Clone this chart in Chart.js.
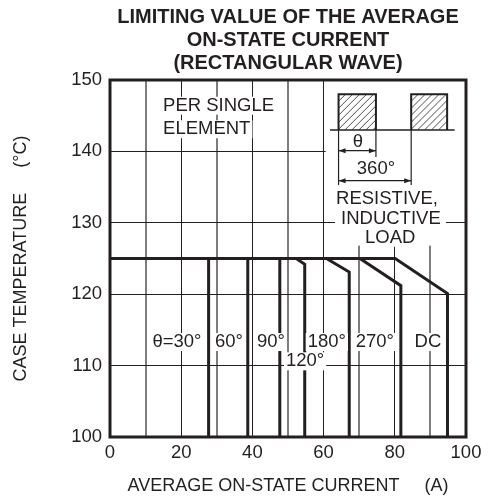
<!DOCTYPE html>
<html lang="en">
<head>
<meta charset="UTF-8">
<title>Limiting value of the average on-state current</title>
<script src="https://cdn.jsdelivr.net/npm/chart.js"></script>
<style>
  body { margin: 0; background: #fff; }
  canvas { display: block; }
</style>
</head>
<body>
<canvas id="chart" width="488" height="501"></canvas>
<script>
// each curve: flat at 125 °C, then (for the wider angles) a short slope, then a drop
const curveNames = ['30°', '60°', '90°', '120°', '180°', '270°', 'DC'];
const curveCurrent = [
  [0, 27.7, 27.7],
  [0, 38.7, 38.7],
  [0, 47.7, 47.7],
  [0, 52.3, 54.7, 54.7],
  [0, 60.8, 67.2, 67.2],
  [0, 70.2, 81.7, 81.7],
  [0, 80.1, 94.8, 94.8]
];
const curveTemp = [
  [125, 125, 100],
  [125, 125, 100],
  [125, 125, 100],
  [125, 125, 124.2, 100],
  [125, 125, 123.1, 100],
  [125, 125, 121.2, 100],
  [125, 125, 120.1, 100]
];

// angle labels sitting on the curves
const labelText = ['θ=30°', '60°', '90°', '120°', '180°', '270°', 'DC'];
const labelX = [18.8, 33.4, 45.2, 54.8, 60.9, 74.4, 89.3];
const labelY = [113.3, 113.3, 113.3, 110.6, 113.3, 113.3, 113.3];

const noteText = ['PER SINGLE', 'ELEMENT'];
const noteY = [146.4, 143.1];
const loadText = ['RESISTIVE,', 'INDUCTIVE', 'LOAD'];
const loadX = [77.8, 78.9, 78.7];
const loadY = [133.3, 130.6, 127.9];

const titleLines = ['LIMITING VALUE OF THE AVERAGE', 'ON-STATE CURRENT', '(RECTANGULAR WAVE)'];

const ink = '#231f20';
const grey = '#7d7d7d';
const family = "'Liberation Sans', Arial, Helvetica, sans-serif";
const textSize = 18.5;

const datasets = curveNames.map((name, i) => ({
  label: name,
  data: curveCurrent[i].map((c, j) => ({ x: c, y: curveTemp[i][j] })),
  showLine: true,
  borderColor: ink,
  borderWidth: 3,
  borderJoinStyle: 'miter',
  pointRadius: 0,
  fill: false
}));

// label with a knocked-out white background
function boxedText(ctx, text, cx, cy) {
  const w = ctx.measureText(text).width;
  ctx.fillStyle = '#fff';
  ctx.fillRect(cx - w / 2 - 2, cy - 9, w + 4, 18);
  ctx.fillStyle = ink;
  ctx.fillText(text, cx, cy);
}

function arrowHead(ctx, x, y, dir) {
  ctx.beginPath();
  ctx.moveTo(x, y);
  ctx.lineTo(x - dir * 7, y - 2.5);
  ctx.lineTo(x - dir * 7, y + 2.5);
  ctx.closePath();
  ctx.fill();
}

const decorations = {
  id: 'decorations',
  afterDatasetsDraw(chart) {
    const { ctx, chartArea: a, scales: { x, y } } = chart;
    const px = v => x.getPixelForValue(v);
    const py = v => y.getPixelForValue(v);
    ctx.save();

    // blank out grid behind the waveform sketch and load note
    ctx.fillStyle = '#fff';
    ctx.fillRect(px(60.6), a.top, a.right - px(60.6), py(134.6) - a.top);
    ctx.fillRect(px(63.2), py(134.6), px(94.4) - px(63.2), py(126.8) - py(134.6));

    // waveform: two hatched pulses on a baseline
    const base = py(143), top = py(148);
    const pulses = [[64.2, 74.7], [84.6, 94.7]];
    ctx.strokeStyle = ink;
    pulses.forEach(([l, r]) => {
      const x0 = px(l), x1 = px(r);
      ctx.save();
      ctx.beginPath();
      ctx.rect(x0, top, x1 - x0, base - top);
      ctx.clip();
      ctx.lineWidth = 0.8;
      const h = base - top;
      for (let k = -h; k < x1 - x0; k += 7) {
        ctx.beginPath();
        ctx.moveTo(x0 + k, base);
        ctx.lineTo(x0 + k + h, top);
        ctx.stroke();
      }
      ctx.restore();
      ctx.lineWidth = 2;
      ctx.beginPath();
      ctx.moveTo(x0, base);
      ctx.lineTo(x0, top);
      ctx.lineTo(x1, top);
      ctx.lineTo(x1, base);
      ctx.stroke();
    });
    ctx.lineWidth = 1.5;
    ctx.beginPath();
    ctx.moveTo(px(61.8), base);
    ctx.lineTo(px(96.8), base);
    ctx.stroke();

    // dimension lines
    ctx.lineWidth = 1.2;
    ctx.beginPath();
    ctx.moveTo(px(64.2), base); ctx.lineTo(px(64.2), py(135.3));
    ctx.moveTo(px(74.7), base); ctx.lineTo(px(74.7), py(139.2));
    ctx.moveTo(px(84.6), base); ctx.lineTo(px(84.6), py(135.3));
    ctx.moveTo(px(64.2), py(140.1)); ctx.lineTo(px(74.7), py(140.1));
    ctx.moveTo(px(64.2), py(135.9)); ctx.lineTo(px(84.6), py(135.9));
    ctx.stroke();
    ctx.fillStyle = ink;
    arrowHead(ctx, px(64.2), py(140.1), -1);
    arrowHead(ctx, px(74.7), py(140.1), 1);
    arrowHead(ctx, px(64.2), py(135.9), -1);
    arrowHead(ctx, px(84.6), py(135.9), 1);

    ctx.font = textSize + 'px ' + family;
    ctx.textBaseline = 'middle';
    ctx.textAlign = 'center';
    ctx.fillText('θ', px(69.6), py(141.3));
    ctx.fillText('360°', px(74.7), py(137.5));

    loadText.forEach((t, i) => boxedText(ctx, t, px(loadX[i]), py(loadY[i])));
    labelText.forEach((t, i) => boxedText(ctx, t, px(labelX[i]), py(labelY[i])));

    ctx.textAlign = 'left';
    noteText.forEach((t, i) => {
      const w = ctx.measureText(t).width;
      ctx.fillStyle = '#fff';
      ctx.fillRect(px(14.9) - 2, py(noteY[i]) - 9, w + 4, 18);
      ctx.fillStyle = ink;
      ctx.fillText(t, px(14.9), py(noteY[i]));
    });

    // heavy frame
    ctx.lineWidth = 3;
    ctx.strokeStyle = ink;
    ctx.strokeRect(a.left, a.top, a.right - a.left, a.bottom - a.top);
    ctx.restore();
  }
};

new Chart(document.getElementById('chart'), {
  type: 'scatter',
  data: { datasets },
  options: {
    responsive: false,
    animation: false,
    layout: { padding: { right: 22 } },
    plugins: {
      legend: { display: false },
      tooltip: { enabled: false },
      title: {
        display: true,
        fullSize: false,
        text: titleLines,
        color: ink,
        font: { family, size: 20, weight: 'bold', lineHeight: 1.15 },
        padding: { top: 6, bottom: 5 }
      }
    },
    scales: {
      x: {
        type: 'linear',
        min: 0,
        max: 100,
        afterFit: s => { s.height = 64; },
        border: { display: false },
        grid: {
          drawTicks: false,
          color: c => c.tick.value % 20 === 0 ? ink : grey,
          lineWidth: c => c.tick.value % 20 === 0 ? 1 : 2
        },
        ticks: {
          stepSize: 10,
          autoSkip: false,
          maxRotation: 0,
          padding: 5,
          color: ink,
          font: { family, size: textSize },
          callback: v => v % 20 === 0 ? v : ''
        },
        title: {
          display: true,
          text: 'AVERAGE ON-STATE CURRENT     (A)',
          color: ink,
          font: { family, size: 18 },
          padding: { top: 0, bottom: 4 }
        }
      },
      y: {
        type: 'linear',
        min: 100,
        max: 150,
        afterFit: s => { s.width = 110; },
        border: { display: false },
        grid: { drawTicks: false, color: ink, lineWidth: 1 },
        ticks: {
          stepSize: 10,
          padding: 8,
          color: ink,
          font: { family, size: textSize }
        },
        title: {
          display: true,
          text: 'CASE TEMPERATURE     (°C)',
          color: ink,
          font: { family, size: 18 },
          padding: { top: 10, bottom: 0 }
        }
      }
    }
  },
  plugins: [decorations]
});
</script>
</body>
</html>
